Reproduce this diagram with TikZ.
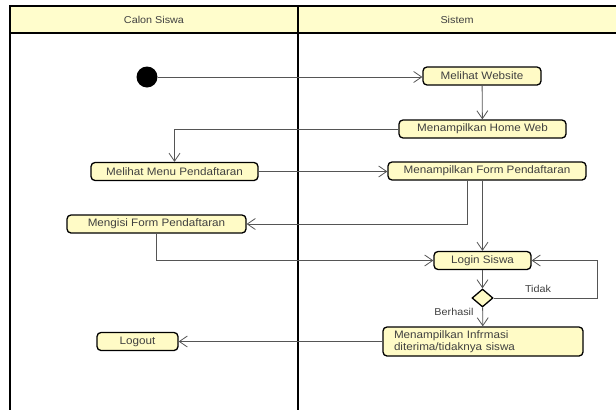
\documentclass[tikz,border=0pt]{standalone}
\usepackage{fontspec}
\setmainfont{Liberation Sans}[FakeStretch=1.08]
\usetikzlibrary{arrows.meta,shapes.geometric}

\definecolor{laneyellow}{HTML}{FFFDCC}
\definecolor{actyellow}{HTML}{FFFBC6}
\definecolor{flowgray}{HTML}{555555}

\tikzset{
	act/.style={draw, line width=1.3pt, rounded corners=4pt, fill=actyellow, minimum height=18pt, inner sep=0pt, text=black!75, font=\fontsize{10.8}{12.5}\selectfont},
	flow/.style={draw=flowgray, line width=0.8pt, -{Straight Barb[length=8pt,width=11pt]}},
	lbl/.style={font=\fontsize{10}{12}\selectfont, text=black!75}
}

\begin{document}
\begin{tikzpicture}[x=1pt,y=-1pt]
		\useasboundingbox (0,0) rectangle (616,410);

		% swimlanes
		\fill[laneyellow] (10,6) rectangle (616,33);
		\draw[line width=1.6pt] (616,6) -- (10,6) -- (10,410);
		\draw[line width=1.6pt] (10,33) -- (616,33);
		\draw[line width=1.6pt] (298,6) -- (298,410);
		\draw (154,20) node[lbl] (lane1) {Calon Siswa};
		\draw (457,20) node[lbl] (lane2) {Sistem};

		% activities
		\draw (147,77) node[circle, fill, minimum size=21pt, inner sep=0pt] (start) {};
		\draw (482,76) node[act, minimum width=118pt] (web) {Melihat Website};
		\draw (482.5,129) node[act, minimum width=167pt] (home) {Menampilkan Home Web};
		\draw (174.5,171.5) node[act, minimum width=167pt] (menu) {Melihat Menu Pendaftaran};
		\draw (487,171) node[act, minimum width=198pt] (form) {Menampilkan Form Pendaftaran};
		\draw (156.5,224) node[act, minimum width=179pt] (isi) {Mengisi Form Pendaftaran};
		\draw (482.5,260.5) node[act, minimum width=97pt] (login) {Login Siswa};
		\draw (482.5,298) node[diamond, draw, line width=1.3pt, fill=actyellow, minimum width=21pt, minimum height=18pt, inner sep=0pt] (cek) {};
		\draw (483,341.5) node[act, inner xsep=11pt, minimum height=29pt, text width=178pt, align=left] (info) {Menampilkan Infrmasi\\diterima/tidaknya siswa};
		\draw (137.5,341.5) node[act, minimum width=81pt] (logout) {Logout};

		\draw (538,289) node[lbl] (tidak) {Tidak};
		\draw (454,312) node[lbl] (berhasil) {Berhasil};

		% flows
		\draw [flow] (start.east) -- (start.east -| web.west);
		\draw [flow] (web) -- (home);
		\draw [flow] (home.west) -| (menu.north);
		\draw [flow] (menu.east) -- (menu.east -| form.west);
		\draw [flow] ([xshift=-20pt]form.south) |- (isi.east);
		\draw [flow] (form.south -| login.north) -- (login.north);
		\draw [flow] (isi.south) |- (login.west);
		\draw [flow] (login) -- (cek);
		\draw [flow] (cek.east) -- ++(104,0) |- (login.east);
		\draw [flow] (cek) -- (info);
		\draw [flow] (info.west) -- (info.west -| logout.east);
	\end{tikzpicture}
\end{document}
